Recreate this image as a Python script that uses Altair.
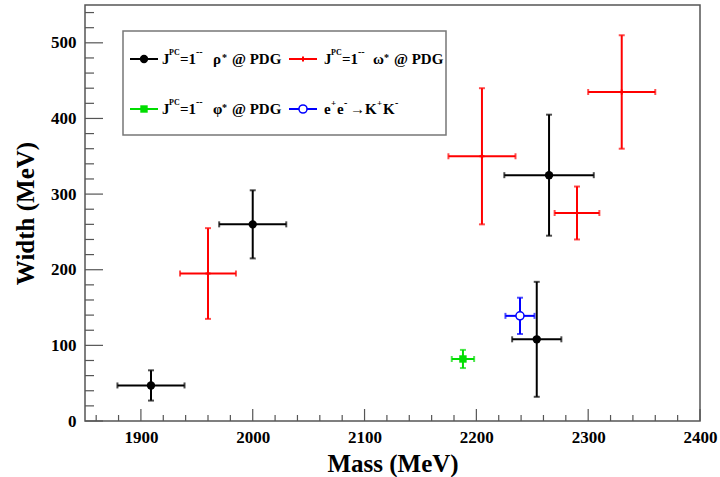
import altair as alt
import pandas as pd

# ---------------- data ----------------
rho_mass = [1909, 2000, 2265, 2254]
rho_width = [47, 260, 325, 108]
rho_mass_err = [30, 30, 40, 22]
rho_width_err = [20, 45, 80, 76]

omega_mass = [1960, 2205, 2290, 2330]
omega_width = [195, 350, 275, 435]
omega_mass_err = [25, 30, 20, 30]
omega_width_err = [60, 90, 35, 75]

phi_mass = [2188]
phi_width = [82]
phi_mass_err = [10]
phi_width_err = [12]

ee_mass = [2239]
ee_width = [139]
ee_mass_err = [13]
ee_width_err = [24]

x_labels = [1900, 2000, 2100, 2200, 2300, 2400]
y_labels = [0, 100, 200, 300, 400, 500]

FONT = "Liberation Serif"
W, H = 615, 416
xs = alt.Scale(domain=[1850, 2400], nice=False, zero=False)
ys = alt.Scale(domain=[0, 550], nice=False, zero=False)

x_axis = alt.Axis(values=x_labels, title="Mass (MeV)", ticks=False, domain=False, grid=False,
                  labelFont=FONT, labelFontWeight="bold", labelFontSize=17, labelColor="black",
                  labelPadding=8, labelFlush=False, format="d",
                  titleFont=FONT, titleFontWeight="bold", titleFontSize=25, titleColor="black",
                  titlePadding=6)
y_axis = alt.Axis(values=y_labels, title="Width (MeV)", ticks=False, domain=False, grid=False,
                  labelFont=FONT, labelFontWeight="bold", labelFontSize=17, labelColor="black",
                  labelPadding=9, format="d",
                  titleFont=FONT, titleFontWeight="bold", titleFontSize=25, titleColor="black",
                  titlePadding=12)


def X(field):
    return alt.X(field, scale=xs, axis=x_axis)


def Y(field):
    return alt.Y(field, scale=ys, axis=y_axis)


one = pd.DataFrame({"a": [0]})


def series_layers(mass, width, merr, werr, color, marker):
    df = pd.DataFrame({
        "m": mass, "w": width,
        "mlo": [m - e for m, e in zip(mass, merr)],
        "mhi": [m + e for m, e in zip(mass, merr)],
        "wlo": [w - e for w, e in zip(width, werr)],
        "whi": [w + e for w, e in zip(width, werr)],
    })
    hbar = alt.Chart(df).mark_rule(color=color, strokeWidth=2).encode(
        x=X("mlo:Q"), x2="mhi:Q", y=Y("w:Q"))
    vbar = alt.Chart(df).mark_rule(color=color, strokeWidth=2).encode(
        x=X("m:Q"), y=Y("wlo:Q"), y2="whi:Q")
    hcap_df = pd.DataFrame({"x": list(df["mlo"]) + list(df["mhi"]),
                            "y": list(df["w"]) * 2})
    vcap_df = pd.DataFrame({"x": list(df["m"]) * 2,
                            "y": list(df["wlo"]) + list(df["whi"])})
    hcaps = alt.Chart(hcap_df).mark_tick(color=color, orient="vertical", size=6, thickness=2).encode(
        x=X("x:Q"), y=Y("y:Q"))
    vcaps = alt.Chart(vcap_df).mark_tick(color=color, orient="horizontal", size=6, thickness=2).encode(
        x=X("x:Q"), y=Y("y:Q"))
    pts = alt.Chart(df).mark_point(**marker).encode(x=X("m:Q"), y=Y("w:Q"))
    return [hbar, vbar, hcaps, vcaps, pts]


m_rho = dict(shape="circle", filled=True, color="black", size=70, opacity=1)
m_omega = dict(shape="cross", filled=True, color="red", size=25, opacity=1)
m_phi = dict(shape="square", filled=True, color="#00dd00", size=55, opacity=1)
m_ee = dict(shape="circle", filled=True, fill="white", stroke="blue", strokeWidth=1.5, size=65, opacity=1)

layers = []
layers += series_layers(rho_mass, rho_width, rho_mass_err, rho_width_err, "black", m_rho)
layers += series_layers(omega_mass, omega_width, omega_mass_err, omega_width_err, "red", m_omega)
layers += series_layers(phi_mass, phi_width, phi_mass_err, phi_width_err, "#00dd00", m_phi)
layers += series_layers(ee_mass, ee_width, ee_mass_err, ee_width_err, "blue", m_ee)

# ---------------- inward ROOT-style ticks ----------------
TICK = "#555555"
y_major = pd.DataFrame({"v": list(range(0, 501, 100))})
y_minor = pd.DataFrame({"v": [v for v in range(20, 541, 20) if v % 100]})
x_major = pd.DataFrame({"v": list(range(1900, 2401, 100))})
x_minor = pd.DataFrame({"v": [v for v in range(1860, 2400, 20) if v % 100]})
layers.append(alt.Chart(y_major).mark_rule(color=TICK, strokeWidth=1.2).encode(
    y=Y("v:Q"), x=alt.value(0), x2=alt.value(18)))
layers.append(alt.Chart(y_minor).mark_rule(color=TICK, strokeWidth=1.2).encode(
    y=Y("v:Q"), x=alt.value(0), x2=alt.value(9)))
layers.append(alt.Chart(x_major).mark_rule(color=TICK, strokeWidth=1.2).encode(
    x=X("v:Q"), y=alt.value(H), y2=alt.value(H - 12)))
layers.append(alt.Chart(x_minor).mark_rule(color=TICK, strokeWidth=1.2).encode(
    x=X("v:Q"), y=alt.value(H), y2=alt.value(H - 6)))

# ---------------- legend box ----------------
layers.append(alt.Chart(one).mark_rect(fill="white", stroke="#777777", strokeWidth=1.5).encode(
    x=alt.value(38), x2=alt.value(361), y=alt.value(26), y2=alt.value(130)))

legend_items = [
    (45, 54, "black", m_rho),
    (204, 54, "red", m_omega),
    (45, 104, "#00dd00", m_phi),
    (204, 104, "blue", m_ee),
]
for lx, ly, col, mk in legend_items:
    layers.append(alt.Chart(one).mark_rule(color=col, strokeWidth=2).encode(
        x=alt.value(lx), x2=alt.value(lx + 28), y=alt.value(ly)))
    layers.append(alt.Chart(one).mark_point(**mk).encode(
        x=alt.value(lx + 14), y=alt.value(ly)))

# text segments: (x, baseline y, text, size)
B1, B2 = 59, 109
segs = [
    # row 1 col 1
    (77, B1, "J", 15), (84, B1 - 9, "PC", 8), (95, B1, "=1", 15), (111, B1 - 9, "--", 10),
    (128, B1, "\u03c1", 15), (137, B1 - 3, "*", 10), (147, B1, "@ PDG", 15),
    # row 1 col 2
    (239, B1, "J", 15), (246, B1 - 9, "PC", 8), (257, B1, "=1", 15), (273, B1 - 9, "--", 10),
    (288, B1, "\u03c9", 15), (299, B1 - 3, "*", 10), (309, B1, "@ PDG", 15),
    # row 2 col 1
    (77, B2, "J", 15), (84, B2 - 9, "PC", 8), (95, B2, "=1", 15), (111, B2 - 9, "--", 10),
    (128, B2, "\u03c6", 15), (137, B2 - 3, "*", 10), (147, B2, "@ PDG", 15),
    # row 2 col 2
    (239, B2, "e", 15), (246, B2 - 8, "+", 9), (252, B2, "e", 15), (259, B2 - 8, "-", 10),
    (265, B2, "\u2192", 15), (280, B2, "K", 15), (292, B2 - 8, "+", 9),
    (298, B2, "K", 15), (310, B2 - 8, "-", 10),
]
for sx, sy, txt, sz in segs:
    layers.append(alt.Chart(one).mark_text(
        font=FONT, fontWeight="bold", fontSize=sz, color="black",
        align="left", baseline="alphabetic").encode(
        x=alt.value(sx), y=alt.value(sy), text=alt.value(txt)))

chart = alt.layer(*layers).properties(
    width=W, height=H,
    padding={"left": 85, "top": 5, "right": 20, "bottom": 56},
    autosize=alt.AutoSizeParams(type="none"),
    background="white",
).configure_view(stroke="#555555", strokeWidth=1.5)

chart.save("out.html", embed_options={"renderer": "svg", "actions": False})
